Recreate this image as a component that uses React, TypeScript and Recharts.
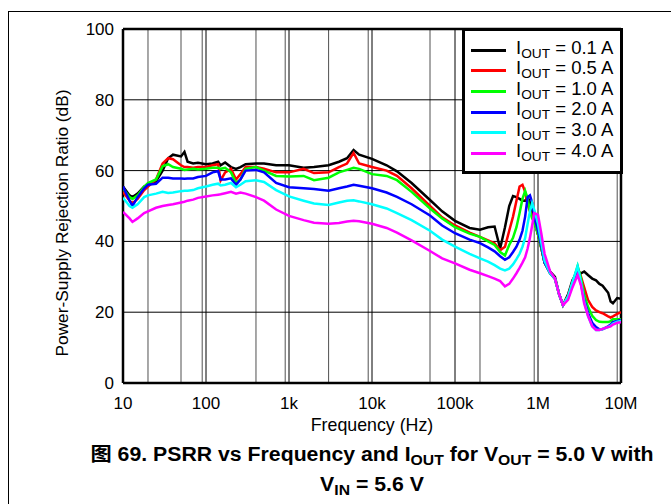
import { LineChart, Line, XAxis, YAxis, CartesianGrid, Legend, Label } from "recharts";

const FONT = '"Liberation Sans", Arial, "Noto Sans CJK SC", sans-serif';

// frequency points (Hz) shared by all curves
const freqHz = [
  10, 12, 13, 15, 18, 20, 25, 30, 35, 40, 50, 55, 60, 70, 80, 100, 120, 140, 150, 170, 200, 230, 260, 300,
  400, 500, 700, 1000, 1500, 2000, 3000, 4000, 5000, 6000, 7000, 10000, 15000, 20000, 30000, 50000, 70000,
  100000, 150000, 200000, 250000, 300000, 350000, 400000, 450000, 500000, 550000, 600000, 650000, 700000,
  750000, 800000, 850000, 900000, 1000000, 1100000, 1200000, 1400000, 1600000, 1800000, 2000000, 2300000,
  2600000, 3000000, 3300000, 3600000, 4000000, 4500000, 5000000, 5500000, 6000000, 7000000, 7500000,
  8000000, 9000000, 10000000,
];

// PSRR (dB) per load current
const psrr01 = [
  55.5, 53, 52.5, 53.5, 55.5, 56, 57, 60, 63.5, 64.5, 64, 65.3, 62.5, 62, 62.2, 61.8, 62, 62.5, 61.5, 62.3, 61, 60.5, 61, 61.8,
  62, 62, 61.5, 61.5, 60.8, 61, 61.5, 62.5, 63.5, 65.8, 64.5, 63.3, 61.5, 59.8, 56.5, 51.7, 48.5,
  45.8, 43.8, 43.3, 44, 44.2, 38, 44, 50, 52.8, 52.5, 52, 51.5, 51.5,
  52.5, 51, 48.5, 46, 42, 38, 34, 31.5, 30, 25, 22, 25,
  29, 31.5, 31, 31.5, 30.5, 29.5, 29, 28, 27.5, 25.5, 23,
  22.5, 24, 23.8,
];
const psrr05 = [
  54, 51.5, 50.8, 52, 54.5, 55.5, 57.5, 62, 63.5, 63.2, 61.5, 61, 61, 60.8, 61, 61, 61.5, 61.8, 57.2, 59.5, 60.5, 57.5, 59, 61,
  61, 60.5, 59.5, 59.5, 60.5, 59.3, 59.5, 61, 62, 65, 62, 61, 60, 58.5, 55, 50, 46.8,
  44.5, 42.5, 41.3, 40.3, 39.5, 37.5, 38.5, 43, 47, 51.5, 55.5, 56, 54,
  50.5, 48.5, 47.5, 46, 42, 38, 34, 31, 29.5, 25, 22, 24.5,
  28.5, 32.5, 30, 27, 23.5, 21.5, 20.5, 20, 19.7, 18.8, 18.5,
  18.8, 19.5, 20,
];
const psrr10 = [
  55, 52.5, 52, 53, 55.5, 56.5, 57.5, 61.2, 61.8, 61, 60.5, 60.2, 60.3, 60.5, 60.3, 60.5, 60.8, 60.8, 60.5, 60.8, 59.5, 56.5, 57.5, 60.5,
  61, 60, 58.5, 58.3, 58.5, 57.3, 58, 59.5, 60.2, 60.8, 60.5, 59, 58.5, 57.3, 54, 49.3, 46.5,
  44, 42.2, 41.3, 40, 39, 37, 36, 39, 41, 44, 48, 52, 54.3,
  52, 48.5, 46.5, 45.5, 42, 38, 34, 31, 29.5, 25, 22, 24,
  28, 33, 29.5, 25, 21.5, 19, 17.8, 17.3, 17.2, 17.2, 17.5,
  18, 18, 18,
];
const psrr20 = [
  55.5, 51.5, 50, 52.5, 55, 56, 56.3, 58, 58, 57.8, 57.8, 57.7, 57.8, 57.8, 58.2, 58.5, 59.5, 59.8, 57.5, 57.5, 57.8, 56, 57.5, 60,
  60.2, 59.5, 56.5, 55.3, 55, 54.8, 54.3, 55, 55.5, 56, 55.7, 55, 53.8, 52.6, 50.5, 47.3, 44.5,
  42.3, 40.5, 39.5, 38.3, 37.2, 35.8, 34.8, 35.5, 37, 38.5, 40.5, 43, 47,
  52.5, 53, 51, 47, 43, 38.5, 34, 31, 29.5, 25, 22, 24,
  28, 32.5, 28, 23.5, 19.8, 17, 15.8, 15.2, 15.2, 16, 16.5,
  17.2, 17.5, 17.8,
];
const psrr30 = [
  52.3, 50, 49.5, 50.5, 52.5, 53, 53.5, 54, 53.7, 53.8, 54.2, 54.3, 54.3, 54.5, 55, 55.5, 56, 56.3, 55.8, 56, 56.5, 55.3, 56, 57,
  57.3, 56.8, 54.5, 52.7, 51.5, 50.7, 50.3, 51, 51.5, 51.6, 51.3, 50.5, 49.3, 48, 46, 43, 40.5,
  38.5, 36.5, 35.2, 34.3, 33.3, 32.3, 31.8, 32.3, 33.5, 35, 36.5, 38.5, 41,
  45, 48.5, 50.8, 49, 45, 39.5, 34.5, 31, 29.5, 25, 22, 24.5,
  28.5, 33, 28.5, 23, 19, 16, 15, 15, 15.3, 15.8, 16.2,
  16.8, 17.3, 17.5,
];
const psrr40 = [
  48.3, 46.5, 45.5, 46.5, 48, 48.5, 49.5, 50, 50.3, 50.5, 51, 51.2, 51.5, 51.8, 52.3, 52.7, 53, 53.2, 53.3, 53.6, 54, 53.5, 53.8, 53.5,
  52.5, 51.5, 49, 47.2, 46, 45.3, 45, 45.2, 45.6, 45.8, 45.7, 45, 43.8, 42.5, 40.3, 37.3, 35.2,
  33.8, 32, 31, 30.2, 29.5, 28.8, 27.3, 28, 29.5, 31, 32.5, 34, 35.5,
  38, 41, 44.5, 48, 47.5, 42, 36.5, 31.5, 29.5, 25, 22, 23.5,
  27, 30.5, 27.5, 22.5, 19, 16, 15, 15, 15.3, 15.8, 16,
  16.5, 17, 17.2,
];

const seriesKeys = ["i01", "i05", "i10", "i20", "i30", "i40"];
const seriesNames = ["0.1 A", "0.5 A", "1.0 A", "2.0 A", "3.0 A", "4.0 A"];
const seriesColors = ["#000000", "#ff0000", "#00ff00", "#0000ff", "#00ffff", "#ff00ff"];
const seriesValues = [psrr01, psrr05, psrr10, psrr20, psrr30, psrr40];

const decadeTicks = [10, 100, 1000, 10000, 100000, 1000000, 10000000];
const decadeLabels = ["10", "100", "1k", "10k", "100k", "1M", "10M"];
const minorFreqs = decadeTicks.slice(0, -1).flatMap((d) => [2, 3, 4, 5, 6, 7, 8, 9].map((m) => d * m));
const dbTicks = [0, 20, 40, 60, 80, 100];

const chartData = freqHz.map((f, i) => {
  const row: Record<string, number> = { f };
  seriesKeys.forEach((k, s) => {
    row[k] = seriesValues[s][i];
  });
  return row;
});

const subStyle: React.CSSProperties = { fontSize: "0.74em", verticalAlign: "-0.26em" };

const renderLegend = (props: any) => (
  <div style={legendStyle}>
    {(props.payload || []).map((e: any) => (
      <div key={e.value} style={{ display: "flex", alignItems: "center", height: 20.6 }}>
        <span style={{ width: 35, height: 3, background: e.color, marginLeft: 6, marginRight: 10 }} />
        <span style={{ whiteSpace: "nowrap" }}>
          I<span style={subStyle}>OUT</span> = {e.value}
        </span>
      </div>
    ))}
  </div>
);

const YTitle = ({ viewBox }: any) => {
  const cx = viewBox.x - 1;
  const cy = viewBox.y + viewBox.height / 2 + 17;
  return (
    <text x={cx} y={cy} transform={`rotate(-90, ${cx}, ${cy})`} textAnchor="middle" dominantBaseline="central"
      fontFamily={FONT} fontSize={17.3} fill="#000">
      Power-Supply Rejection Ratio (dB)
    </text>
  );
};

const XTitle = ({ viewBox }: any) => (
  <text x={viewBox.x + viewBox.width / 2} y={viewBox.y + 48} textAnchor="middle" fontFamily={FONT} fontSize={17.8} fill="#000">
    Frequency (Hz)
  </text>
);

export default function App() {
  return (
    <div style={frameStyle}>
      <LineChart width={662} height={492} data={chartData} margin={{ top: 17, right: 50, left: 54, bottom: 91 }}>
        <CartesianGrid horizontal={false} verticalValues={minorFreqs} stroke="#505050" strokeWidth={1} />
        <CartesianGrid horizontalValues={[20, 40, 60, 80]} verticalValues={decadeTicks} stroke="#000" strokeWidth={1} />
        <CartesianGrid horizontalValues={[0, 100]} verticalValues={[10, 10000000]} stroke="#000" strokeWidth={2.5} />
        <XAxis
          dataKey="f"
          type="number"
          scale="log"
          domain={[10, 10000000]}
          ticks={decadeTicks}
          tickFormatter={(v: number) => decadeLabels[decadeTicks.indexOf(v)] ?? String(v)}
          allowDataOverflow
          axisLine={false}
          tickLine={false}
          tickSize={0}
          tickMargin={14}
          height={30}
          tick={{ fill: "#000", fontSize: 17, fontFamily: FONT }}
        >
          <Label content={XTitle} />
        </XAxis>
        <YAxis
          type="number"
          domain={[0, 100]}
          ticks={dbTicks}
          axisLine={false}
          tickLine={false}
          tickSize={0}
          tickMargin={9}
          width={60}
          tick={{ fill: "#000", fontSize: 17, fontFamily: FONT }}
        >
          <Label content={YTitle} />
        </YAxis>
        <Legend
          layout="vertical"
          align="center"
          verticalAlign="middle"
          wrapperStyle={{ left: 453, top: 16, width: 161 }}
          content={renderLegend}
        />
        {seriesKeys.map((k, s) => (
          <Line
            key={k}
            type="linear"
            dataKey={k}
            name={seriesNames[s]}
            stroke={seriesColors[s]}
            strokeWidth={2.5}
            dot={false}
            isAnimationActive={false}
          />
        ))}
      </LineChart>
      <div style={captionStyle}>
        <div>
          图 69. PSRR vs Frequency and I<span style={subStyle}>OUT</span> for V<span style={subStyle}>OUT</span> = 5.0 V with
        </div>
        <div>
          V<span style={subStyle}>IN</span> = 5.6 V
        </div>
      </div>
    </div>
  );
}

const frameStyle: React.CSSProperties = {
  position: "absolute",
  left: 8,
  top: 11,
  width: 663,
  height: 493,
  boxSizing: "border-box",
  borderLeft: "1px solid #000",
  borderTop: "1px solid #000",
  background: "#fff",
  overflow: "hidden",
};

const legendStyle: React.CSSProperties = {
  boxSizing: "border-box",
  width: 161,
  height: 146,
  border: "3px solid #000",
  background: "#fff",
  padding: "9px 0 8px",
  fontFamily: FONT,
  fontSize: 18.5,
  color: "#000",
  lineHeight: "20px",
};

const captionStyle: React.CSSProperties = {
  position: "absolute",
  left: 363,
  top: 430,
  transform: "translateX(-50%) scaleX(1.09)",
  whiteSpace: "nowrap",
  textAlign: "center",
  fontFamily: FONT,
  fontWeight: "bold",
  fontSize: 19.5,
  lineHeight: "24px",
  color: "#000",
};
